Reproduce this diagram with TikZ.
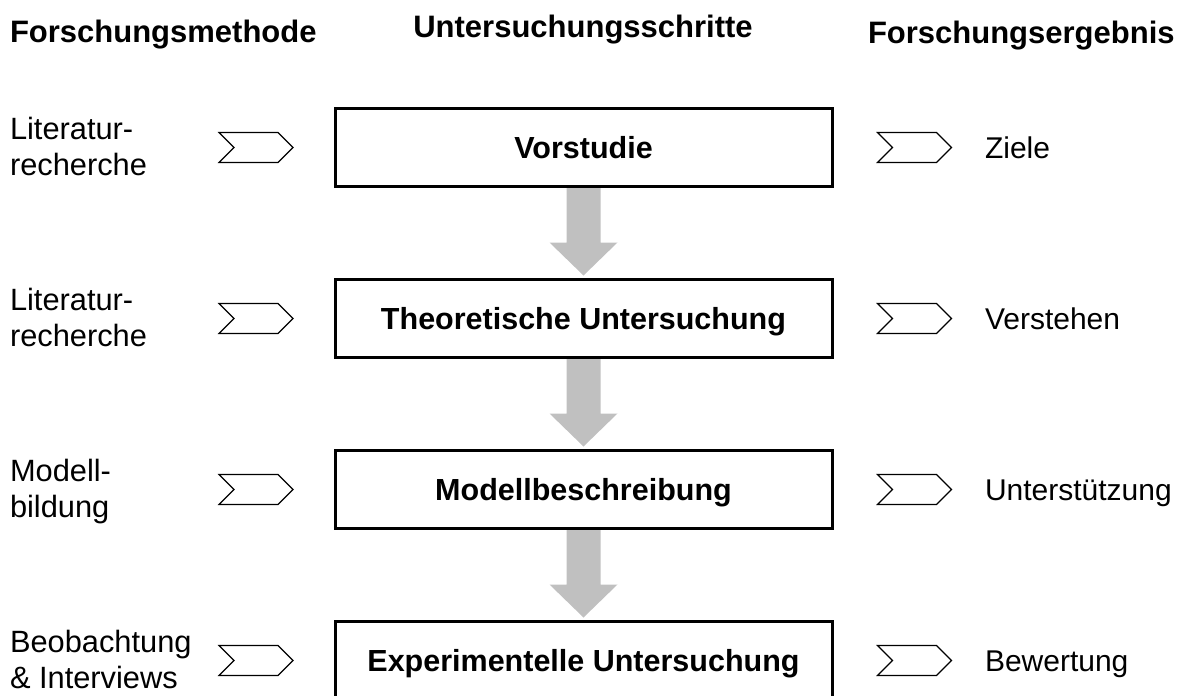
\documentclass[tikz,border=0pt]{standalone}
\usepackage{fontspec}
\setmainfont{Liberation Sans}
\usetikzlibrary{calc,shapes.symbols}
\definecolor{flowgray}{RGB}{192,192,192}
\begin{document}
\begin{tikzpicture}[x=1pt,y=-1pt,
  every node/.style={inner sep=0pt, outer sep=0pt, font=\fontsize{30}{36}\selectfont},
  colhead/.style={anchor=base west, font=\fontsize{31}{36}\selectfont\bfseries},
  stepbox/.style={draw, line width=3pt, minimum width=497pt, minimum height=78pt,
    text height=22pt, text depth=0pt, font=\fontsize{30.5}{36}\selectfont\bfseries},
  chev/.style={signal, signal from=west, signal to=east, signal pointer angle=90,
    draw, line width=1.2pt, minimum width=74pt, minimum height=30pt},
  method/.style={anchor=base west, align=left, font=\fontsize{30.8}{36}\selectfont},
  result/.style={anchor=base west},
  flow/.style={fill=flowgray}
]
\clip (0,0) rectangle (1184,696);

% column headings
\node[colhead] (h1) at (10,42) {Forschungsmethode};
\node[colhead, anchor=base] (h2) at (583,37) {Untersuchungsschritte};
\node[colhead] (h3) at (868,43) {Forschungsergebnis};

% investigation steps
\node[stepbox] (s1) at (583.5,147.5) {Vorstudie};
\node[stepbox] (s2) at (583.5,318.5) {Theoretische Untersuchung};
\node[stepbox] (s3) at (583.5,489.5) {Modellbeschreibung};
\node[stepbox] (s4) at (583.5,660.5) {Experimentelle Untersuchung};

% flow arrows between the steps
\foreach \a/\b in {s1/s2, s2/s3, s3/s4}{
  \fill[flow] ($(\a.south)+(-17,1.5)$) -- ($(\a.south)+(-17,56)$) -- ($(\a.south)+(-34,56)$)
    -- ($(\b.north)+(0,-4)$) -- ($(\a.south)+(34,56)$) -- ($(\a.south)+(17,56)$)
    -- ($(\a.south)+(17,1.5)$) -- cycle;
}

% research methods (base anchor sits on the last line)
\node[method] (m1) at (10,175) {Literatur-\\recherche};
\node[method] (m2) at (10,346) {Literatur-\\recherche};
\node[method] (m3) at (10,517) {Modell-\\bildung};
\node[method] (m4) at (10,688) {Beobachtung\\\& Interviews};

\node[chev] (cm1) at (256,147.5) {};
\node[chev] (cm2) at (256,318.5) {};
\node[chev] (cm3) at (256,489.5) {};
\node[chev] (cm4) at (256,660.5) {};

% research results
\node[chev] (cr1) at (914.5,147.5) {};
\node[chev] (cr2) at (914.5,318.5) {};
\node[chev] (cr3) at (914.5,489.5) {};
\node[chev] (cr4) at (914.5,660.5) {};

\node[result] (r1) at (985,158.5) {Ziele};
\node[result] (r2) at (985,329.5) {Verstehen};
\node[result] (r3) at (985,500.5) {Unterstützung};
\node[result] (r4) at (985,671.5) {Bewertung};
\end{tikzpicture}
\end{document}
